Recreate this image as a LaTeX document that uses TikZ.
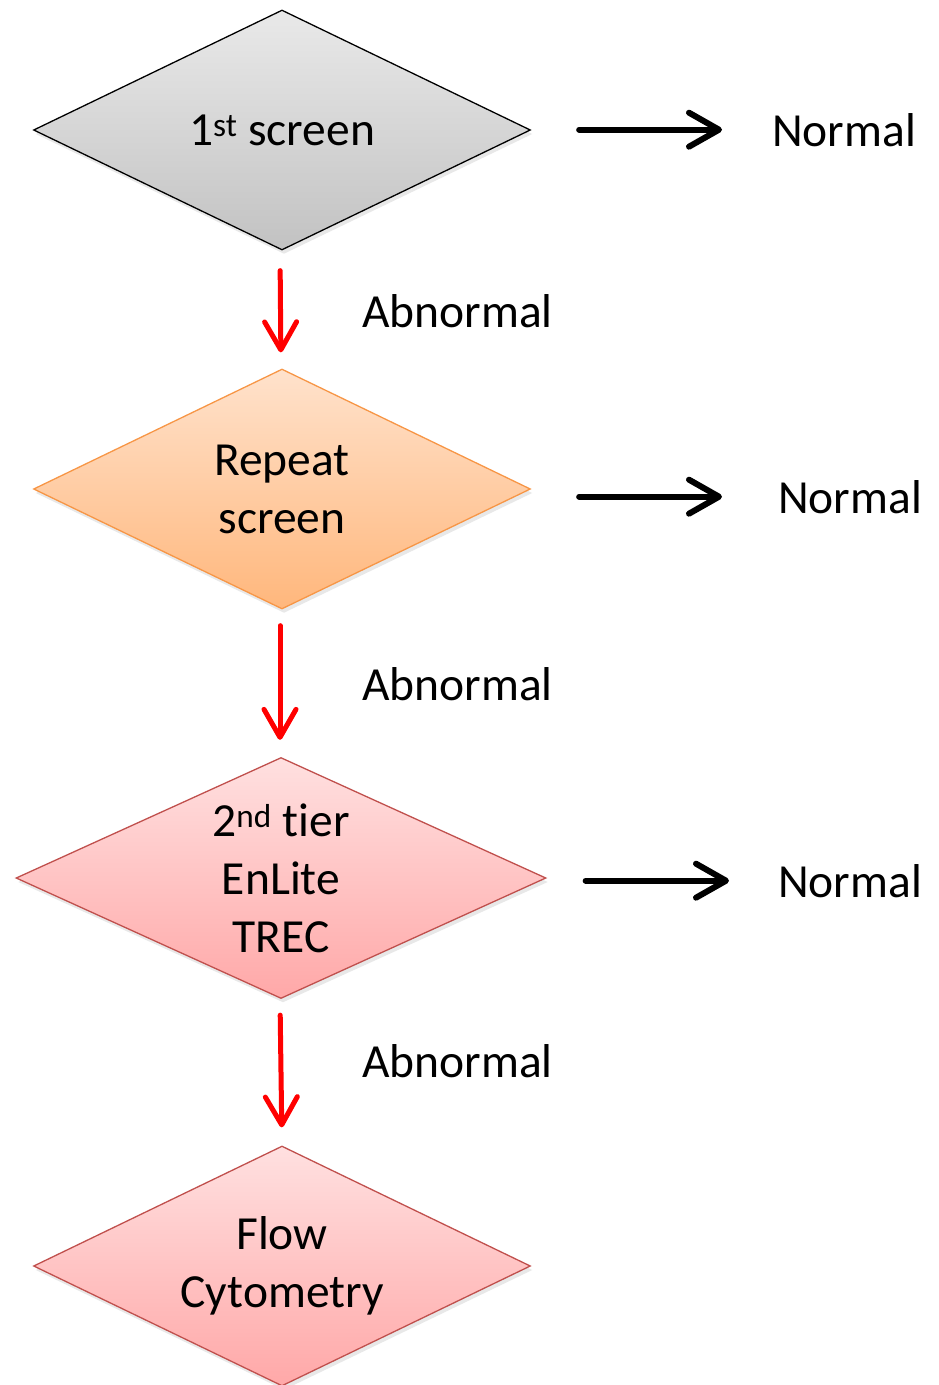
\documentclass[tikz,border=0pt]{standalone}
\usepackage{fontspec}
\setmainfont{Carlito}[Ligatures=NoCommon]
\usetikzlibrary{arrows.meta,shapes.geometric,shadows}

\definecolor{greytop}{HTML}{E9E9E9}
\definecolor{greybot}{HTML}{C2C2C2}
\definecolor{orangetop}{HTML}{FFE2CC}
\definecolor{orangebot}{HTML}{FFB77C}
\definecolor{orangeline}{HTML}{F79646}
\definecolor{pinktop}{HTML}{FFE0E0}
\definecolor{pinkbot}{HTML}{FFA8A8}
\definecolor{pinkline}{HTML}{C0504D}

\tikzset{
	test/.style={shape=diamond, aspect=2, inner sep=0pt, align=center,
		font=\fontsize{47.5}{58}\selectfont,
		drop shadow={opacity=0.18, shadow xshift=2pt, shadow yshift=-4pt}},
	result/.style={anchor=base west, inner sep=0pt, font=\fontsize{47.5}{58}\selectfont},
	normalarrow/.style={line width=6pt, line cap=round, line join=round,
		-{Straight Barb[length=30pt,width=34pt,line cap=round,line join=round]}},
	abnormalarrow/.style={red, line width=5pt, line cap=round, line join=round,
		-{Straight Barb[length=28pt,width=32pt,line cap=round,line join=round]}}
}

\begin{document}
\begin{tikzpicture}[x=1pt,y=-1pt]
			%%%%% START %%%%%
			
			\useasboundingbox (0,0) rectangle (938,1385);
			
			% the four tests
			\node[test, draw=black, line width=1.3pt, top color=greytop, bottom color=greybot,
				minimum width=497pt, minimum height=240pt] (first) at (282,130) {1\textsuperscript{st} screen};
			\node[test, draw=orangeline, line width=1.3pt, top color=orangetop, bottom color=orangebot,
				minimum width=497pt, minimum height=240pt] (repeat) at (282,489) {Repeat\\screen};
			\node[test, draw=pinkline, line width=1.3pt, top color=pinktop, bottom color=pinkbot,
				minimum width=530pt, minimum height=241pt] (tier) at (281,878) {2\textsuperscript{nd} tier\\EnLite\\TREC};
			\node[test, draw=pinkline, line width=1.3pt, top color=pinktop, bottom color=pinkbot,
				minimum width=497pt, minimum height=240pt] (flow) at (282,1266) {Flow\\Cytometry};
			
			% outcomes
			\node[result] (normA) at (772,146) {Normal};
			\node[result] (normB) at (778,513) {Normal};
			\node[result] (normC) at (778,897) {Normal};
			
			\node[result] (abnA) at (362,327) {Abnormal};
			\node[result] (abnB) at (362,700) {Abnormal};
			\node[result] (abnC) at (362,1077) {Abnormal};
			
			% normal branches
			\draw[normalarrow, shorten <=48pt, shorten >=50pt] (normA.west -| first.east) -- (normA.west);
			\draw[normalarrow, shorten <=48pt, shorten >=56pt] (normB.west -| repeat.east) -- (normB.west);
			\draw[normalarrow, shorten <=39pt, shorten >=49pt] (normC.west -| tier.east) -- (normC.west);
			
			% abnormal branches
			\draw[abnormalarrow, shorten <=20pt, shorten >=16pt] ([xshift=-2pt]first.south) -- ([xshift=-1pt]repeat.north);
			\draw[abnormalarrow, shorten <=16pt, shorten >=17pt] ([xshift=-2pt]repeat.south) -- ([xshift=-1pt]tier.north);
			\draw[abnormalarrow, shorten <=16pt, shorten >=18pt] ([xshift=-1pt]tier.south) -- (flow.north);
			
			%%%%% END %%%%%
\end{tikzpicture}
\end{document}
